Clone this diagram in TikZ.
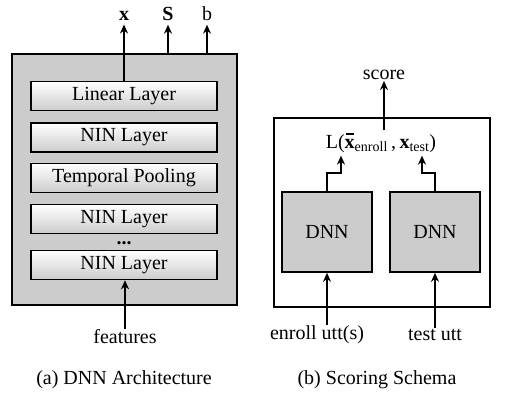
\documentclass[tikz,border=0pt]{standalone}
\usepackage{fontspec}
\setmainfont{Liberation Serif}
\usetikzlibrary{arrows.meta}
\newcommand{\barbx}{\leavevmode\rlap{\hspace{1pt}\rule[13.5pt]{8.5pt}{1.5pt}}\textbf{x}}
\begin{document}
\begin{tikzpicture}[x=1pt,y=-1pt,
  every node/.style={font=\fontsize{20}{24}\selectfont},
  arr/.style={line width=1.6pt,-{Stealth[length=9pt,width=8pt]}},
  layerbox/.style={draw,line width=1.6pt,minimum width=186pt,minimum height=29pt,inner sep=0pt,top color=white,bottom color=black!20},
  dnnbox/.style={draw,line width=1.6pt,fill=black!20,minimum width=90pt,minimum height=80pt,inner sep=0pt},
  outerbox/.style={draw,line width=1.6pt,inner sep=0pt,anchor=north west},
  toplab/.style={anchor=base,inner sep=0pt,outer sep=4pt}]
\useasboundingbox (0,0) rectangle (506,400);
% ---- (a) ----
\node[outerbox,fill=black!20,minimum width=225pt,minimum height=251pt] (outa) at (11,53) {};
\node[layerbox] (lin) at (124,96) {Linear Layer};
\node[layerbox] (nin1) at (124,137.5) {NIN Layer};
\node[layerbox] (pool) at (124,178) {Temporal Pooling};
\node[layerbox] (nin2) at (124,219) {NIN Layer};
\node[inner sep=0pt,anchor=base] (dots) at (124,244.5) {\textbf{...}};
\node[layerbox] (nin3) at (124,265) {NIN Layer};
\node[toplab] (xl) at (124,20.5) {\textbf{x}};
\node[toplab] (sl) at (168,20.5) {\textbf{S}};
\node[toplab] (bl) at (207,20.5) {b};
\draw[arr] (lin.north -| xl) -- (xl.south);
\draw[arr] (outa.north -| sl) -- (sl.south);
\draw[arr] (outa.north -| bl) -- (bl.south);
\node[inner sep=1pt] (feat) at (125,337) {features};
\draw[arr] (feat.north) -- (feat.north |- nin3.south);
\node (capa) at (124,380) {(a) DNN Architecture};
% ---- (b) ----
\node[outerbox,fill=white,minimum width=216pt,minimum height=189pt] (outb) at (273,117) {};
\node[dnnbox] (d1) at (327,232) {DNN};
\node[dnnbox] (d2) at (435,232) {DNN};
\node[inner sep=0pt,outer sep=3pt] (lf) at (381,143) {L(\barbx\textsubscript{enroll}\,,\,\textbf{x}\textsubscript{test})};
\node[inner sep=1pt] (score) at (384,75) {score};
\draw[arr] (lf.north -| score) -- (score.south);
\coordinate (ea) at (341,173);
\coordinate (ta) at (422,173);
\draw[arr] (d1.north) |- (ea) -- (ea |- lf.south);
\draw[arr] (d2.north) |- (ta) -- (ta |- lf.south);
\node[inner sep=1pt] (enr) at (317,335) {enroll utt(s)};
\node[inner sep=1pt] (tst) at (435,335) {test utt};
\draw[arr] (enr.north -| d1) -- (d1.south);
\draw[arr] (tst.north -| d2) -- (d2.south);
\node (capb) at (377,380) {(b) Scoring Schema};
\end{tikzpicture}
\end{document}
